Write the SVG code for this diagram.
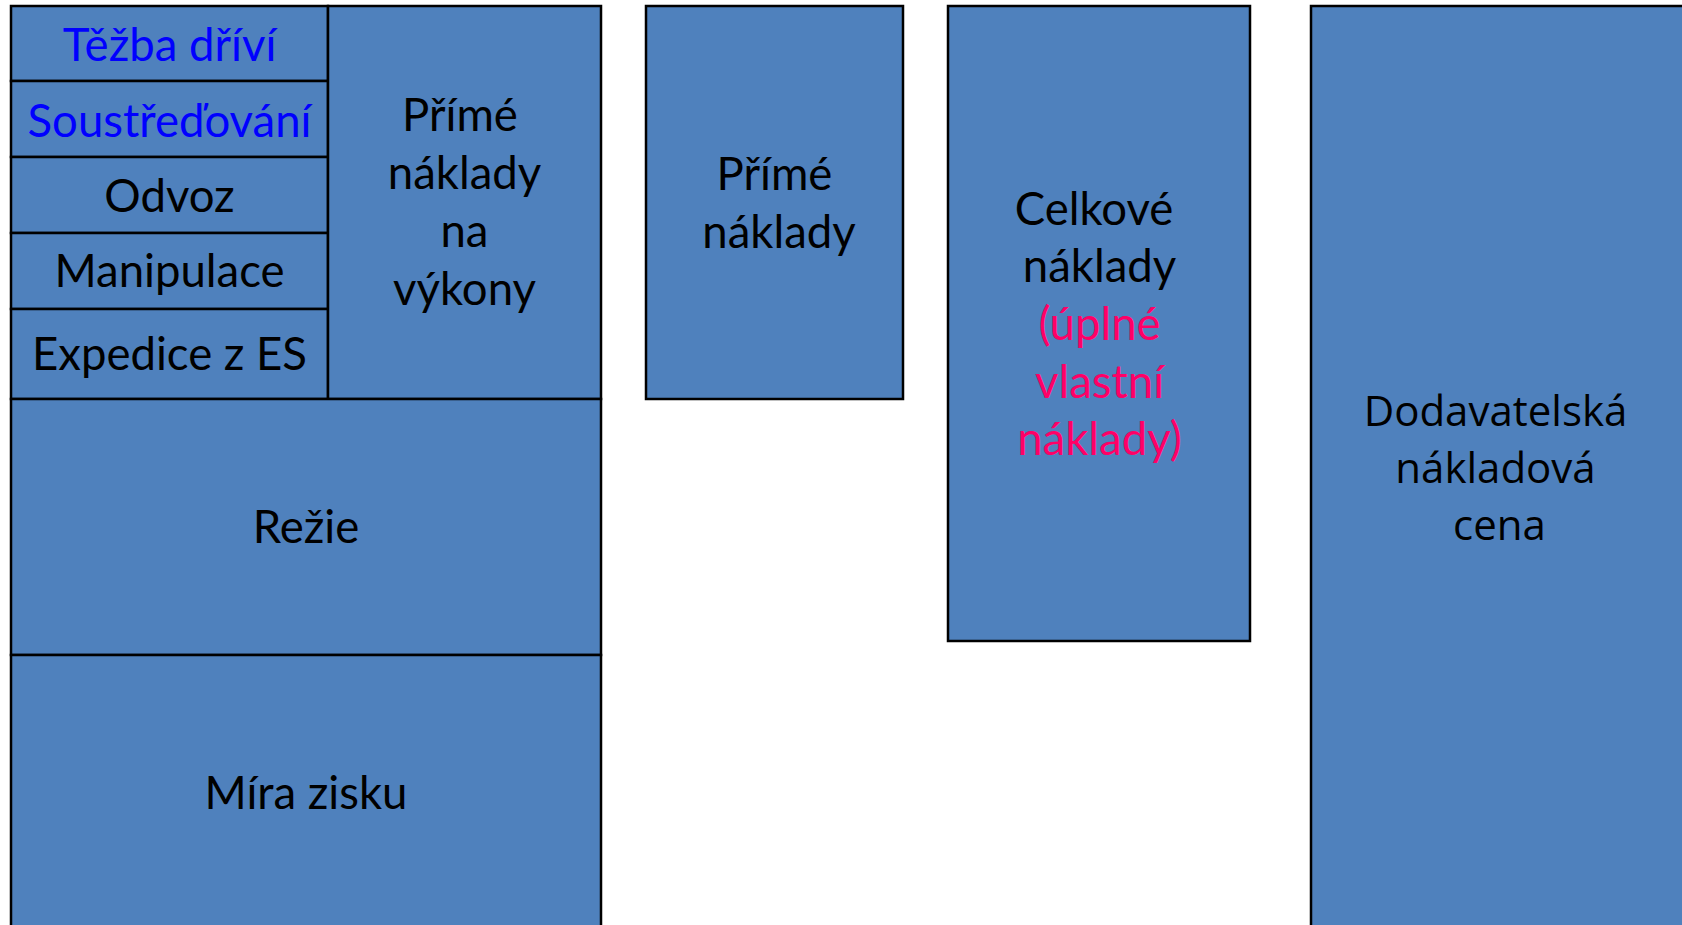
<svg xmlns="http://www.w3.org/2000/svg" width="1682" height="925" viewBox="0 0 1682 925">
<style>
.box{fill:#4F81BD;stroke:#000;stroke-width:2.5}
.t{font-family:Lato,"Open Sans",sans-serif;font-size:45.5px;fill:#000;text-anchor:middle}
.blue{fill:#0000FF}
.pink{fill:#FF0066}
.wide{font-family:"Open Sans",sans-serif;font-size:42px}
</style>
<rect width="1682" height="925" fill="#fff"/>
<g id="tezba"><rect class="box" x="11" y="6" width="317" height="75"/><text class="t blue" x="169.5" y="61">Těžba dříví</text></g>
<g id="soustredovani"><rect class="box" x="11" y="81" width="317" height="76"/><text class="t blue" x="169.5" y="137">Soustřeďování</text></g>
<g id="odvoz"><rect class="box" x="11" y="157" width="317" height="76"/><text class="t" x="169.5" y="212">Odvoz</text></g>
<g id="manipulace"><rect class="box" x="11" y="233" width="317" height="76"/><text class="t" x="169.5" y="287">Manipulace</text></g>
<g id="expedice"><rect class="box" x="11" y="309" width="317" height="90"/><text class="t" x="169.5" y="370">Expedice z ES</text></g>
<g id="prime-vykony"><rect class="box" x="328" y="6" width="273" height="393"/><text class="t" x="464.5"><tspan x="460" y="131">Přímé</tspan><tspan x="464.5" y="189">náklady</tspan><tspan x="464.5" y="247">na</tspan><tspan x="464.5" y="305">výkony</tspan></text></g>
<g id="rezie"><rect class="box" x="11" y="399" width="590" height="256"/><text class="t" x="306" y="543">Režie</text></g>
<g id="mira-zisku"><rect class="box" x="11" y="655" width="590" height="280"/><text class="t" x="306" y="809">Míra zisku</text></g>
<g id="prime-naklady"><rect class="box" x="646" y="6" width="257" height="393"/><text class="t" x="774.5"><tspan x="774.5" y="190">Přímé</tspan><tspan x="779" y="248">náklady</tspan></text></g>
<g id="celkove"><rect class="box" x="948" y="6" width="302" height="635"/><text class="t" x="1099.5"><tspan x="1094" y="225">Celkové</tspan><tspan x="1099.5" y="282">náklady</tspan><tspan class="pink" x="1099.5" y="340">(úplné</tspan><tspan class="pink" x="1099.5" y="398">vlastní</tspan><tspan class="pink" x="1099.5" y="455">náklady)</tspan></text></g>
<g id="dodavatelska"><rect class="box" x="1311" y="6" width="400" height="940"/><text class="t wide" x="1495.5"><tspan x="1495.5" y="426">Dodavatelská</tspan><tspan x="1495.5" y="483">nákladová</tspan><tspan x="1499.5" y="540">cena</tspan></text></g>
<g id="connectors"></g>
</svg>
